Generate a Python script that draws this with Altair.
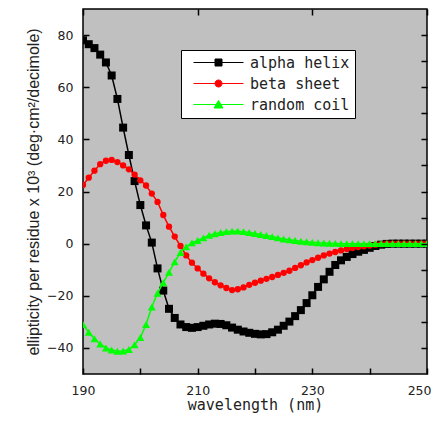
import altair as alt
import pandas as pd

# ---------------- data ----------------
wavelength = list(range(190, 251))

alpha_helix = [
    78.0, 76.5, 75.0, 72.5, 69.5, 64.5, 55.5, 44.5, 34.0, 24.0,
    14.8, 7.0, 0.4, -9.5, -18.0, -25.0, -28.5, -31.0, -32.0, -32.3,
    -32.0, -31.5, -31.0, -30.7, -30.8, -31.3, -32.2, -33.0, -33.7, -34.2,
    -34.6, -34.8, -34.7, -34.0, -33.0, -31.5, -29.9, -27.8, -25.5, -22.8,
    -19.8, -16.6, -13.7, -10.8, -8.2, -6.4, -5.1, -4.0, -3.1, -2.4,
    -1.6, -0.9, -0.4, -0.1, 0.0, 0.0, 0.0, 0.0, 0.0, 0.0, 0.0,
]
beta_sheet = [
    22.5, 25.3, 28.0, 30.5, 31.8, 32.1, 31.3, 30.0, 28.5, 26.5,
    24.3, 22.3, 19.2, 16.0, 11.0, 6.5, 2.7, -0.9, -4.5, -7.3,
    -9.5, -11.5, -13.3, -14.8, -16.0, -17.0, -17.8, -17.5, -16.8, -15.8,
    -15.0, -14.2, -13.5, -12.8, -12.0, -11.2, -10.4, -9.3, -8.3, -7.2,
    -6.3, -5.4, -4.5, -3.8, -3.2, -2.6, -2.1, -1.7, -1.3, -1.0,
    -0.7, -0.4, -0.2, 0.0, 0.0, 0.0, 0.0, 0.0, 0.0, 0.0, 0.0,
]
random_coil = [
    -31.0, -34.0, -36.5, -38.5, -40.0, -40.8, -41.3, -41.2, -40.6, -38.8,
    -36.0, -31.0, -24.3, -19.0, -15.0, -11.0, -7.0, -3.4, -1.2, 0.3,
    1.2, 2.2, 3.2, 3.8, 4.3, 4.6, 4.8, 4.8, 4.6, 4.3,
    3.9, 3.5, 3.1, 2.7, 2.2, 1.8, 1.5, 1.2, 0.9, 0.7,
    0.5, 0.35, 0.25, 0.15, 0.1, 0.0, 0.0, 0.0, 0.0, 0.0,
    0.0, 0.0, 0.0, 0.0, 0.0, 0.0, 0.0, 0.0, 0.0, 0.0, 0.0,
]

series_names = ["alpha helix", "beta sheet", "random coil"]
series_colors = ["#000000", "#ff0000", "#00ff00"]
series_markers = ["square", "circle", "triangle-up"]
series_marker_sizes = [64, 40, 64]
# legend symbols: short line with the series marker in its middle
legend_symbols = [
    "M0,0H10M4.3,-0.7H5.7V0.7H4.3Z",
    "M0,0H10M4.3,0A0.7,0.7,0,1,0,5.7,0A0.7,0.7,0,1,0,4.3,0Z",
    "M0,0H10M5,-0.8L5.9,0.7H4.1Z",
]

x_label_values = [190, 210, 230, 250]
x_tick_values = list(range(190, 251, 10))
y_label_values = [-40, -20, 0, 20, 40, 60, 80]
y_tick_values_right = list(range(-40, 81, 10))

df = pd.DataFrame({
    "wavelength": wavelength * 3,
    "value": alpha_helix + beta_sheet + random_coil,
    "series": [s for s in series_names for _ in wavelength],
})

FONT = "DejaVu Sans"
MONO = "DejaVu Sans Mono"
TXT = "#222222"

xs = alt.Scale(domain=[190, 250], nice=False, zero=False)
ys = alt.Scale(domain=[-50, 90], nice=False, zero=False)

last_label_right = {"condition": {"test": "datum.value == 250", "value": "right"},
                    "value": "center"}
last_label_shift = {"condition": {"test": "datum.value == 250", "value": 4}, "value": 0}

ax_x_main = alt.Axis(orient="bottom", values=x_label_values, ticks=False, tickSize=0,
                     domain=False, grid=False, labelPadding=10, labelFlush=False,
                     labelOverlap=False, labelFont=FONT, labelFontSize=12.5, labelColor=TXT,
                     labelAlign=last_label_right, labelOffset=last_label_shift,
                     title="wavelength (nm)", titleFont=MONO, titleFontSize=15,
                     titleFontWeight="normal", titleColor=TXT, titlePadding=1)
ax_y_main = alt.Axis(orient="left", values=y_label_values, ticks=False, tickSize=0,
                     domain=False, grid=False, labelPadding=10, labelFlush=False,
                     labelOverlap=False, labelFont=FONT, labelFontSize=12.5, labelColor=TXT,
                     title="ellipticity per residue x 10³ (deg·cm²/decimole)",
                     titleFont="Liberation Sans", titleFontSize=16, titleFontWeight="normal",
                     titleColor=TXT, titlePadding=5)

# inward ticks: axes moved 6px inside the plot, ticks pointing back to the frame
TICK = dict(ticks=True, tickSize=6, tickColor="black", tickWidth=1.5, labels=False,
            domain=False, grid=False, title=None, zindex=1, offset=-6)
ax_x_bottom_ticks = alt.Axis(orient="bottom", values=x_tick_values, **TICK)
ax_y_left_ticks = alt.Axis(orient="left", values=y_label_values, **TICK)
ax_x_top_ticks = alt.Axis(orient="top", values=x_label_values, **TICK)
ax_y_right_ticks = alt.Axis(orient="right", values=y_tick_values_right, **TICK)

axes_for_lines = [(ax_x_main, ax_y_main), (ax_x_bottom_ticks, ax_y_left_ticks),
                  (ax_x_top_ticks, ax_y_right_ticks)]

base = alt.Chart(df)
layers = []
for i, name in enumerate(series_names):
    ax_x, ax_y = axes_for_lines[i]
    sub = base.transform_filter(alt.datum.series == name)
    line = sub.mark_line(color=series_colors[i], strokeWidth=1.5, clip=True).encode(
        x=alt.X("wavelength:Q", scale=xs, axis=ax_x),
        y=alt.Y("value:Q", scale=ys, axis=ax_y),
    )
    pts = sub.mark_point(shape=series_markers[i], filled=True, color=series_colors[i],
                         size=series_marker_sizes[i], opacity=1, clip=True).encode(
        x=alt.X("wavelength:Q", scale=xs, axis=None),
        y=alt.Y("value:Q", scale=ys, axis=None),
    )
    layers += [line, pts]

leg = alt.Legend(title=None, orient="none", legendX=98, legendY=41, fillColor="white",
                 strokeColor="black", padding=5, cornerRadius=0, symbolSize=100,
                 symbolStrokeWidth=1, labelFont=MONO, labelFontSize=15, labelColor=TXT,
                 labelOffset=49, rowPadding=5, labelLimit=300)
color_scale = alt.Scale(domain=series_names, range=series_colors)
legend_layer = base.transform_filter("false").mark_point(filled=True, opacity=1).encode(
    x=alt.X("wavelength:Q", scale=xs, axis=None),
    y=alt.Y("value:Q", scale=ys, axis=None),
    fill=alt.Fill("series:N", scale=color_scale, legend=leg),
    stroke=alt.Stroke("series:N", scale=color_scale, legend=leg),
    shape=alt.Shape("series:N", scale=alt.Scale(domain=series_names, range=legend_symbols),
                    legend=leg),
)
layers.append(legend_layer)

chart = alt.layer(*layers).resolve_axis(x="independent", y="independent").properties(
    width=344, height=365,
    autosize=alt.AutoSizeParams(type="none"),
    padding={"left": 75, "top": 1, "right": 4, "bottom": 40},
).configure_view(
    fill="#c0c0c0", stroke="black", strokeWidth=1.5
).configure_legend(
    symbolFillColor="black"
)

chart.save("out.html", embed_options={"renderer": "svg", "actions": False})
